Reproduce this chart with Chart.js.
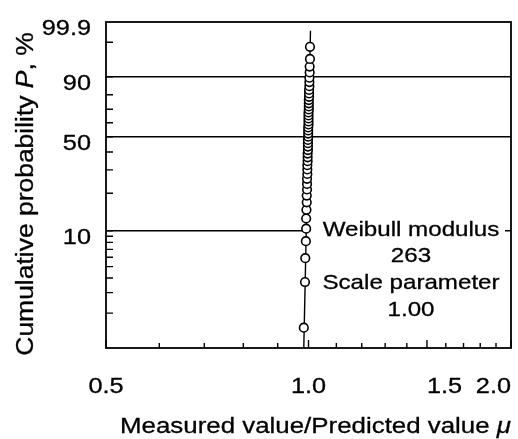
<!DOCTYPE html>
<html>
<head>
<meta charset="utf-8">
<script src="https://cdn.jsdelivr.net/npm/chart.js@4/dist/chart.umd.min.js"></script>
<style>
  html, body { margin: 0; padding: 0; background: #fff; }
  #wrap { width: 518px; height: 439px; position: relative; }
</style>
</head>
<body>
<div id="wrap"><canvas id="chart"></canvas></div>
<script>
// Values.
const measuredRatio = [
  0.984, 0.988, 0.989, 0.991, 0.992, 0.992, 0.993, 0.994, 0.994,
  0.995, 0.995, 0.995, 0.996, 0.996, 0.996, 0.997, 0.997, 0.997,
  0.998, 0.998, 0.998, 0.998, 0.999, 0.999, 0.999, 0.999, 1.000,
  1.000, 1.000, 1.000, 1.000, 1.001, 1.001, 1.001, 1.001, 1.002,
  1.002, 1.002, 1.003, 1.003, 1.003, 1.004, 1.004, 1.005, 1.005,
];
const cumulativeProb = [
  1.5, 3.7, 5.9, 8.2, 10.4, 12.6, 14.8, 17.0, 19.2,
  21.4, 23.6, 25.8, 28.0, 30.2, 32.4, 34.6, 36.8, 39.0,
  41.2, 43.4, 45.6, 47.8, 50.0, 52.2, 54.4, 56.6, 58.8,
  61.0, 63.2, 65.4, 67.6, 69.8, 72.0, 74.2, 76.4, 78.6,
  80.8, 83.0, 85.2, 87.4, 89.6, 91.9, 94.1, 96.3, 98.5,
];
const fitRatio = [0.984, 1.0068];
const fitProb = [1.0, 99.7];

const probTicks = [1, 2, 3, 4, 5, 6, 7, 8, 9, 10, 20, 30, 40, 50, 60, 70, 80, 90, 99, 99.9];
const probLabels = ['99.9', '90', '50', '10'];
const probGridLines = [90, 50, 10];
const ratioTicks = [0.5, 0.6, 0.7, 0.8, 0.9, 1.0, 1.1, 1.2, 1.3, 1.4, 1.5, 1.6, 1.7, 1.8, 1.9, 2.0];
const ratioLabels = ['0.5', '1.0', '1.5', '2.0'];
const noteLines = ['Weibull modulus', '263', 'Scale parameter', '1.00'];

const fontFamily = '"Liberation Sans", Arial, Helvetica, sans-serif';
const textStretch = 1.15;

function weibullOf(percent) {
  return Math.log(-Math.log(1 - percent / 100));
}

// Probability axis: linear in ln(-ln(1-P)).
class WeibullScale extends Chart.Scale {
  determineDataLimits() {
    this.min = this.options.min;
    this.max = this.options.max;
  }
  buildTicks() {
    return probTicks.map(value => ({value}));
  }
  configure() {
    super.configure();
    this._startW = weibullOf(this.min);
    this._rangeW = weibullOf(this.max) - this._startW;
  }
  getLabelForValue(value) {
    return String(value);
  }
  getPixelForValue(value) {
    return this.getPixelForDecimal((weibullOf(value) - this._startW) / this._rangeW);
  }
  getValueForPixel(pixel) {
    const w = this._startW + this.getDecimalForPixel(pixel) * this._rangeW;
    return 100 * (1 - Math.exp(-Math.exp(w)));
  }
}
WeibullScale.id = 'weibull';
WeibullScale.defaults = {};
Chart.register(WeibullScale);

// parts: [[text, italic], ...]
function drawText(ctx, parts, x, y, align, size, rotate) {
  ctx.save();
  ctx.translate(x, y);
  if (rotate) ctx.rotate(-Math.PI / 2);
  ctx.scale(textStretch, 1);
  ctx.fillStyle = '#000';
  ctx.strokeStyle = '#000';
  ctx.lineWidth = 0.3;
  ctx.textAlign = 'left';
  ctx.textBaseline = 'alphabetic';
  const widths = parts.map(([text, italic]) => {
    ctx.font = `${italic ? 'italic ' : ''}${size}px ${fontFamily}`;
    return ctx.measureText(text).width;
  });
  const total = widths.reduce((a, b) => a + b, 0);
  let start = align === 'center' ? -total / 2 : align === 'right' ? -total : 0;
  parts.forEach(([text, italic], i) => {
    ctx.font = `${italic ? 'italic ' : ''}${size}px ${fontFamily}`;
    ctx.fillText(text, start, 0);
    ctx.strokeText(text, start, 0);
    start += widths[i];
  });
  ctx.restore();
}

function noteGeometry(chart) {
  const area = chart.chartArea;
  const y10 = chart.scales.y.getPixelForValue(10);
  return {cx: area.right - 100, firstBaseline: y10 + 5, step: 26.7};
}

const paperPlugin = {
  id: 'paper',
  beforeDatasetsDraw(chart) {
    const ctx = chart.ctx;
    const {cx, firstBaseline, step} = noteGeometry(chart);
    const left = chart.scales.x.getPixelForValue(1.0) + 2;
    ctx.save();
    ctx.fillStyle = '#fff';
    ctx.fillRect(left, firstBaseline - 20, cx + 94 - left, step * 3 + 26);
    ctx.restore();
  },
  afterDatasetsDraw(chart) {
    const ctx = chart.ctx;
    const area = chart.chartArea;
    const xs = chart.scales.x;
    const ys = chart.scales.y;

    ctx.save();
    ctx.strokeStyle = '#000';
    ctx.lineWidth = 1.8;
    ctx.strokeRect(area.left, area.top, area.right - area.left, area.bottom - area.top);

    // inward tick marks
    ctx.lineWidth = 1.4;
    ctx.beginPath();
    ratioTicks.forEach(v => {
      const px = xs.getPixelForValue(v);
      const len = ratioLabels.includes(v.toFixed(1)) ? 8 : 5;
      ctx.moveTo(px, area.bottom);
      ctx.lineTo(px, area.bottom - len);
    });
    probTicks.forEach(p => {
      if (p === probTicks[0] || p === probTicks[probTicks.length - 1]) return;
      const py = ys.getPixelForValue(p);
      ctx.moveTo(area.left, py);
      ctx.lineTo(area.left + 7, py);
    });
    ctx.stroke();
    ctx.restore();

    probLabels.forEach(label => {
      const py = ys.getPixelForValue(Number(label));
      drawText(ctx, [[label, false]], area.left - 15, py + 13, 'right', 22);
    });
    ratioLabels.forEach((label, i) => {
      const px = xs.getPixelForValue(Number(label));
      let align = 'center';
      if (label === '1.5') align = 'left';
      if (i === ratioLabels.length - 1) align = 'right';
      drawText(ctx, [[label, false]], px, area.bottom + 45, align, 22);
    });

    drawText(ctx, [['Measured value/Predicted value ', false], ['\u03bc', true]],
      (area.left + area.right) / 2 + 7, area.bottom + 85, 'center', 22.5);
    drawText(ctx, [['Cumulative probability ', false], ['P', true], [', %', false]],
      33, (area.top + area.bottom) / 2 + 9, 'center', 23, true);

    const {cx, firstBaseline, step} = noteGeometry(chart);
    noteLines.forEach((line, i) => {
      drawText(ctx, [[line, false]], cx, firstBaseline + i * step, 'center', 21);
    });
  },
};

const points = measuredRatio.map((x, i) => ({x, y: cumulativeProb[i]}));
const fitLine = fitRatio.map((x, i) => ({x, y: fitProb[i]}));

new Chart(document.getElementById('chart'), {
  type: 'scatter',
  data: {
    datasets: [
      {
        data: points,
        pointRadius: 4.3,
        pointBorderWidth: 1.6,
        pointBackgroundColor: '#fff',
        pointBorderColor: '#000',
        showLine: false,
      },
      {
        data: fitLine,
        showLine: true,
        pointRadius: 0,
        borderColor: '#000',
        borderWidth: 1.4,
      },
    ],
  },
  options: {
    responsive: true,
    maintainAspectRatio: false,
    animation: false,
    events: [],
    layout: {padding: {left: 106, right: 7, top: 22, bottom: 91}},
    plugins: {legend: {display: false}, tooltip: {enabled: false}},
    scales: {
      x: {
        type: 'logarithmic',
        min: 0.5,
        max: 2.0,
        bounds: 'data',
        afterBuildTicks: scale => { scale.ticks = ratioTicks.map(value => ({value})); },
        grid: {display: false, drawTicks: false},
        border: {display: false},
        ticks: {display: false},
      },
      y: {
        type: 'weibull',
        position: 'left',
        min: 1,
        max: 99.9,
        grid: {
          drawTicks: false,
          lineWidth: 1.6,
          color: ctx => (ctx.tick && probGridLines.includes(ctx.tick.value)) ? '#000' : 'rgba(0,0,0,0)',
        },
        border: {display: false},
        ticks: {display: false},
      },
    },
  },
  plugins: [paperPlugin],
});
</script>
</body>
</html>
